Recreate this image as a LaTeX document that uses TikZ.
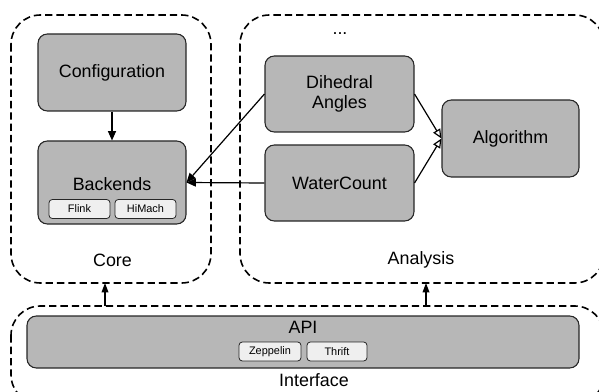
\documentclass[tikz,border=0pt]{standalone}
\usepackage{fontspec}
\setmainfont{Liberation Sans}
\usetikzlibrary{arrows.meta}
\definecolor{boxgray}{HTML}{B7B7B7}
\definecolor{subgray}{HTML}{EFEFEF}
\begin{document}
\begin{tikzpicture}[x=0.75pt,y=-0.75pt,
  mainbox/.style={draw=black!85, line width=0.8pt, fill=boxgray, rounded corners=7pt, inner sep=0pt, align=center,
    font=\fontsize{13.4}{15.5}\selectfont},
  subbox/.style={draw=black!85, line width=0.6pt, fill=subgray, rounded corners=2.5pt, inner sep=0pt,
    minimum height=14.25pt, font=\fontsize{8.2}{10}\selectfont},
  group/.style={draw, line width=1.2pt, dash pattern=on 5.5pt off 3pt, rounded corners=22pt},
  lbl/.style={font=\fontsize{13.4}{15.5}\selectfont, inner sep=0pt},
  solidarr/.style={-{Triangle[length=7pt,width=6pt]}, line width=0.9pt},
  openarr/.style={-{Triangle[open,length=7pt,width=6pt]}, line width=0.9pt},
  uparr/.style={-{Triangle[length=7pt,width=5pt]}, line width=1pt}]
\useasboundingbox (0,0) rectangle (599,392);
\clip (0,0) rectangle (599,392);
% group boxes
\draw[group] (11,15) rectangle (211,283);
\draw[group] (240,15) rectangle (604,283);
\draw[group] (11,306) rectangle (604,404);
\coordinate (coreB) at (105,283);
\coordinate (coreI) at (105,306);
\coordinate (anaB) at (426,283);
\coordinate (anaI) at (426,306);
% nodes
\node[mainbox, minimum width=111pt, minimum height=57.75pt] (config) at (112,72.5) {Configuration};
\node[mainbox, minimum width=111pt, minimum height=62.25pt] (backends) at (112,182.5) {};
\node[lbl] (backlbl) at (112,184) {Backends};
\node[subbox, minimum width=45.75pt] (flink) at (79.5,209) {Flink};
\node[subbox, minimum width=45.75pt] (himach) at (145.5,209) {HiMach};
\node[mainbox, minimum width=111.75pt, minimum height=57pt] (dihedral) at (339.5,94) {Dihedral\\Angles};
\node[mainbox, minimum width=111.75pt, minimum height=57pt] (water) at (339.5,183) {WaterCount};
\node[mainbox, minimum width=102.75pt, minimum height=57.75pt] (algo) at (510.5,138.5) {Algorithm};
\node[lbl] (dots) at (340,34) {...};
\node[mainbox, minimum width=414pt, minimum height=39pt] (api) at (303,342) {};
\node[lbl] (apilbl) at (303,327) {API};
\node[subbox, minimum width=46.5pt] (zep) at (270,351.5) {Zeppelin};
\node[subbox, minimum width=45pt] (thrift) at (337,351.5) {Thrift};
\node[lbl] (corelbl) at (112.5,260) {Core};
\node[lbl] (analbl) at (421,260) {Analysis};
\node[lbl] (intlbl) at (314,380) {Interface};
% connectors
\draw[solidarr] (config) -- (backends);
\draw[solidarr] (dihedral.west) -- (backends.east);
\draw[solidarr] (water.west) -- (backends.east);
\draw[openarr] (dihedral.east) -- (algo.west);
\draw[openarr] (water.east) -- (algo.west);
\draw[uparr] (coreI) -- (coreB);
\draw[uparr] (anaI) -- (anaB);
\end{tikzpicture}
\end{document}
